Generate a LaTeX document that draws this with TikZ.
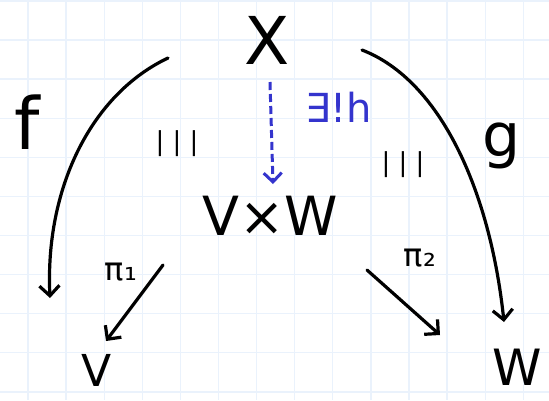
\documentclass[tikz,border=0pt]{standalone}
\usepackage{fontspec}
\setmainfont{DejaVu Sans}
\usetikzlibrary{arrows.meta}
\definecolor{gridc}{RGB}{234,242,252}
\definecolor{penblue}{RGB}{52,52,205}
\tikzset{
  gridline/.style={draw=gridc, line width=1.3pt},
  pen/.style={line width=3.2pt, line cap=round, line join=round},
  arr/.style={pen, -{Straight Barb[length=10pt,width=20pt,line width=3.2pt]}},
  harr/.style={line width=3pt, draw=penblue, dash pattern=on 8pt off 4pt, -{Straight Barb[length=9pt,width=18pt,line width=3pt]}},
  lbl/.style={inner sep=0pt, text=black},
}
\begin{document}
\begin{tikzpicture}[x=1pt,y=-1pt]
\useasboundingbox (0,0) rectangle (549,400);
\fill[white] (0,0) rectangle (549,400);
\foreach \x in {28,66.1,104.2,142.3,180.4,218.5,256.6,294.7,332.8,370.9,409,447.1,485.2,523.3}
  \draw[gridline] (\x,0) -- (\x,400);
\foreach \y in {1,40,79.1,118.2,157.3,196.4,235.5,274.6,313.7,352.8,391.9}
  \draw[gridline] (0,\y) -- (549,\y);

% objects
\node[lbl, font=\fontsize{66}{66}\selectfont] (X) at (267,40) {X};
\node[lbl, font=\fontsize{54}{54}\selectfont] (VW) at (270,216) {V×W};
\node[lbl, font=\fontsize{44}{44}\selectfont] (V) at (97,370) {V};
\node[lbl, font=\fontsize{50}{50}\selectfont] (W) at (517,367) {W};

% labels
\node[lbl, font=\fontsize{72}{72}\selectfont] (f) at (27,122) {f};
\node[lbl, font=\fontsize{60}{60}\selectfont] (g) at (502,146) {g};
\node[lbl, text=penblue, font=\fontsize{40}{40}\selectfont] (h) at (339,107) {∃!h};
\node[lbl, font=\fontsize{32}{32}\selectfont] (p1) at (121,272) {π₁};
\node[lbl, font=\fontsize{32}{32}\selectfont] (p2) at (420,258) {π₂};
\node[lbl, font=\fontsize{26}{26}\selectfont] (c1) at (177,144) {| | |};
\node[lbl, font=\fontsize{26}{26}\selectfont] (c2) at (403,165) {| | |};

% connector end points
\coordinate (fs) at (168,58);
\coordinate (fe) at (50,298);
\coordinate (gs) at (362,50);
\coordinate (ge) at (504,322);
\coordinate (hs) at (270,82);
\coordinate (he) at (273,184);
\coordinate (p1s) at (163,265);
\coordinate (p1e) at (106,341);
\coordinate (p2s) at (367,270);
\coordinate (p2e) at (440,335);

\draw[arr] (fs) .. controls (90,95) and (45,190) .. (fe);
\draw[arr] (gs) .. controls (440,80) and (490,190) .. (ge);
\draw[harr] (hs) -- (he);
\draw[arr] (p1s) -- (p1e);
\draw[arr] (p2s) -- (p2e);
\end{tikzpicture}
\end{document}
